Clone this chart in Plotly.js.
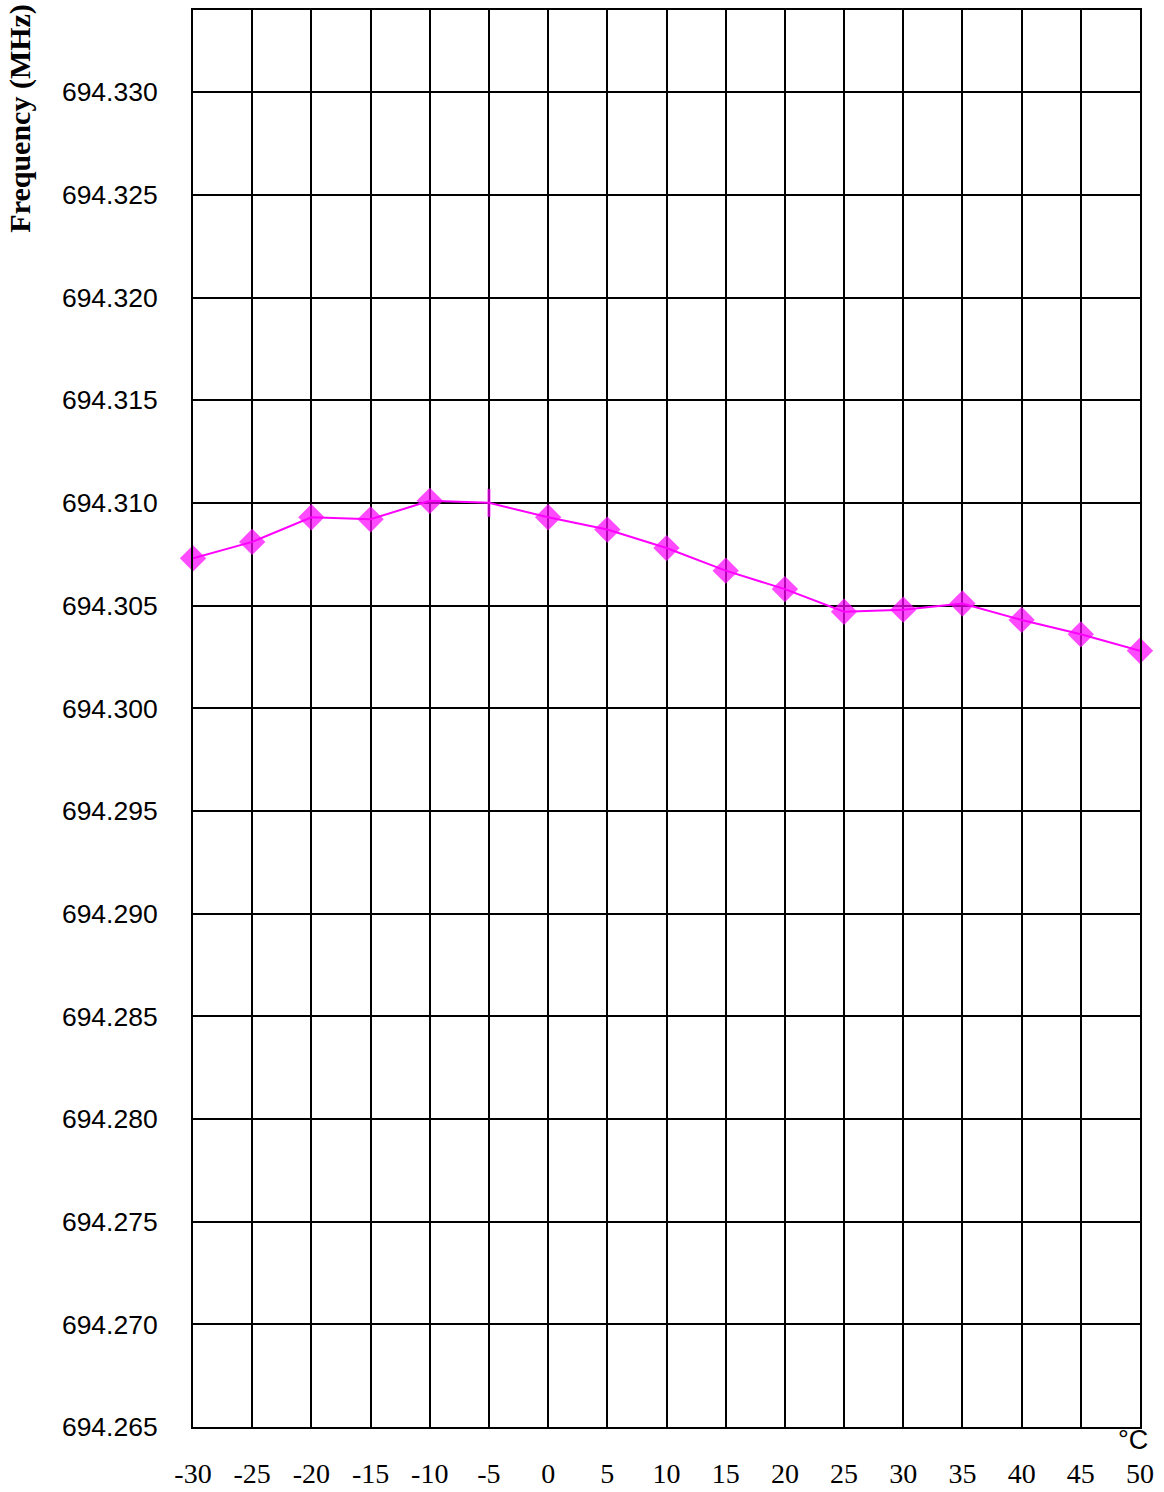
<!DOCTYPE html>
<html>
<head>
<meta charset="utf-8">
<script src="https://cdn.plot.ly/plotly-3.0.1.min.js"></script>
<style>html,body{margin:0;padding:0;background:#fff;}#chart{width:1164px;height:1492px;}</style>
</head>
<body>
<div id="chart"></div>
<script>
var temperatures = [-30, -25, -20, -15, -10, -5, 0, 5, 10, 15, 20, 25, 30, 35, 40, 45, 50];
var frequencies = [694.3073, 694.3081, 694.3093, 694.3092, 694.3101, 694.3100, 694.3093, 694.3087, 694.3078, 694.3067, 694.3058, 694.3047, 694.3048, 694.3051, 694.3043, 694.3036, 694.3028];
var yTickValues = [694.265, 694.270, 694.275, 694.280, 694.285, 694.290, 694.295, 694.300, 694.305, 694.310, 694.315, 694.320, 694.325, 694.330];
var yTickLabels = yTickValues.map(function(v){ return v.toFixed(3); });
var xTickLabels = temperatures.map(String);

var symbols = temperatures.map(function(t){ return t === -5 ? 'line-ns' : 'diamond'; });
var sizes = temperatures.map(function(t){ return t === -5 ? 20 : 17; });

var trace = {
  x: temperatures,
  y: frequencies,
  type: 'scatter',
  mode: 'lines+markers',
  line: {color: '#FF00FF', width: 2},
  marker: {symbol: symbols, size: sizes, color: '#FF00FF', line: {color: '#FF00FF', width: 3}},
  cliponaxis: false,
  hoverinfo: 'x+y'
};

var layout = {
  width: 1164,
  height: 1492,
  margin: {l: 193, r: 24, t: 10, b: 65},
  paper_bgcolor: '#ffffff',
  plot_bgcolor: '#ffffff',
  showlegend: false,
  xaxis: {
    range: [-30, 50],
    tickmode: 'array',
    tickvals: temperatures,
    ticktext: xTickLabels,
    showgrid: true,
    gridcolor: '#000000',
    gridwidth: 2,
    zeroline: false,
    showline: true,
    linecolor: '#000000',
    linewidth: 2,
    mirror: true,
    ticks: '',
    ticklabelstandoff: 20,
    tickfont: {family: '"Liberation Serif", "Times New Roman", serif', size: 28, color: '#000000'}
  },
  yaxis: {
    range: [694.265, 694.334],
    tickmode: 'array',
    tickvals: yTickValues,
    ticktext: yTickLabels,
    showgrid: true,
    gridcolor: '#000000',
    gridwidth: 2,
    zeroline: false,
    showline: true,
    linecolor: '#000000',
    linewidth: 2,
    mirror: true,
    ticks: '',
    ticklabelstandoff: 28,
    tickfont: {family: '"Liberation Sans", Arial, sans-serif', size: 26.5, color: '#000000'}
  },
  annotations: [
    {
      text: '<b>Frequency (MHz)</b>',
      xref: 'paper', yref: 'paper',
      x: -0.183, y: 1.006,
      xanchor: 'center', yanchor: 'top',
      textangle: -90,
      showarrow: false,
      font: {family: '"Liberation Serif", "Times New Roman", serif', size: 30, color: '#000000'}
    },
    {
      text: '°C',
      xref: 'paper', yref: 'paper',
      x: 1.0, y: 0.0,
      xanchor: 'center', yanchor: 'top',
      yshift: 4,
      xshift: -7,
      showarrow: false,
      font: {family: '"Liberation Sans", Arial, sans-serif', size: 27, color: '#000000'}
    }
  ]
};

Plotly.newPlot('chart', [trace], layout, {displayModeBar: false, staticPlot: true});
</script>
</body>
</html>
